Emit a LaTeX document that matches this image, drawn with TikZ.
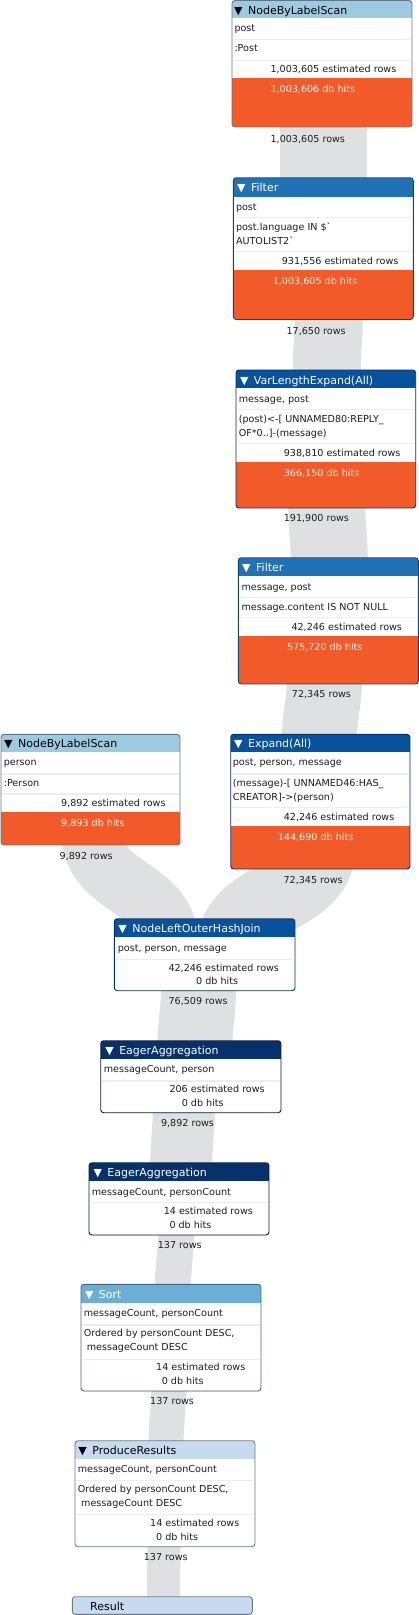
\documentclass[tikz,border=0pt]{standalone}
\usepackage{fontspec}
\setmainfont{DejaVu Sans}
\pgfdeclarelayer{bands}
\pgfsetlayers{bands,main}
\definecolor{scanblue}{HTML}{9ECAE1}
\definecolor{filterblue}{HTML}{2171B5}
\definecolor{expandblue}{HTML}{08519C}
\definecolor{aggblue}{HTML}{08306B}
\definecolor{sortblue}{HTML}{6BAED6}
\definecolor{resultblue}{HTML}{C6DBEF}
\definecolor{hitorange}{HTML}{F25A29}
\definecolor{bandgray}{HTML}{DFE0E2}
\definecolor{sepgray}{HTML}{EDEDED}
\definecolor{inkcol}{HTML}{1E1E1E}
\tikzset{
  body/.style={anchor=base west, inner sep=0pt, outer sep=0pt, font=\fontsize{9.6}{11}\selectfont, text=inkcol},
  hitstext/.style={body, text=white},
  rowsout/.style={anchor=base east, inner sep=0pt, outer sep=0pt, font=\fontsize{9.6}{11}\selectfont, text=inkcol},
  hdr/.style={anchor=base west, inner sep=0pt, outer sep=0pt, font=\fontsize{11}{13}\selectfont},
  band/.style={draw=bandgray, line cap=butt},
  rowsep/.style={draw=sepgray, line width=1.5pt},
  opframe/.style={rectangle, inner sep=0pt, outer sep=0pt, draw=none},
}
\newcommand{\tri}{▼\hspace{5.5pt}}
% #1 name #2 x1 #3 y1 #4 x2 #5 y2 #6 header bottom #7 header colour #8 orange top #9 border colour
\newcommand{\planop}[9]{%
  \node[opframe, minimum width={#4-#2}, minimum height={#5-#3}] (#1) at ({(#2+#4)/2},{(#3+#5)/2}) {};
  \begin{scope}
    \clip[rounded corners=3pt] (#2,#3) rectangle (#4,#5);
    \fill[white] (#2,#3) rectangle (#4,#5);
    \fill[#7] (#2,#3) rectangle (#4,#6);
    \fill[hitorange] (#2,#8) rectangle (#4,#5);
  \end{scope}
  \draw[#9, line width=0.9pt, rounded corners=3pt] (#2,#3) rectangle (#4,#5);
}
\begin{document}
\begin{tikzpicture}[x=1pt, y=-1pt]
\useasboundingbox (0,0) rectangle (419,1615);

% ---------- boxes ----------
\planop{b1}{232}{0.5}{412}{127}{17.5}{scanblue}{78}{scanblue!60!black}
\draw[rowsep] (233,39.5) -- (411,39.5);
\draw[rowsep] (233,60.5) -- (411,60.5);
\node[hdr, text=black] (b1h) at (234.1,14) {\tri NodeByLabelScan};
\node[body] (b1a) at (234.5,31) {post};
\node[body] (b1b) at (234.5,51.5) {:Post};
\node[body] (b1e) at (270.5,72.7) {1,003,605 estimated rows};
\node[hitstext] (b1d) at (270.5,92.3) {1,003,606 db hits};
\node[rowsout] (b1r) at (345,142.3) {1,003,605 rows};

\planop{b2}{233.3}{177.7}{413.3}{319.5}{196.5}{filterblue}{270}{filterblue!60!black}
\draw[rowsep] (234.3,217.5) -- (412.3,217.5);
\draw[rowsep] (234.3,251.7) -- (412.3,251.7);
\node[hdr, text=white] (b2h) at (237.1,191.5) {\tri Filter};
\node[body] (b2a) at (236,210.7) {post};
\node[body] (b2b) at (236,230.7) {post.language IN \$\textasciigrave};
\node[body] (b2c) at (236,244) {AUTOLIST2\textasciigrave};
\node[body] (b2e) at (281.8,264.3) {931,556 estimated rows};
\node[hitstext] (b2d) at (272.8,284.3) {1,003,605 db hits};
\node[rowsout] (b2r) at (345.7,334.3) {17,650 rows};

\planop{b3}{236}{370}{415.7}{508}{388.3}{expandblue}{462}{expandblue!60!black}
\draw[rowsep] (237,409.7) -- (414.7,409.7);
\draw[rowsep] (237,443.3) -- (414.7,443.3);
\node[hdr, text=white] (b3h) at (240,384) {\tri VarLengthExpand(All)};
\node[body] (b3a) at (238.8,402.3) {message, post};
\node[body] (b3b) at (238.8,422.5) {(post)<-[ UNNAMED80:REPLY\_};
\node[body] (b3c) at (238.8,436) {OF*0..]-(message)};
\node[body] (b3e) at (283.8,456) {938,810 estimated rows};
\node[hitstext] (b3d) at (283.8,476) {366,150 db hits};
\node[rowsout] (b3r) at (349,521) {191,900 rows};

\planop{b4}{238.3}{557.7}{418.3}{684}{576}{filterblue}{636}{filterblue!60!black}
\draw[rowsep] (239.3,597.7) -- (417.3,597.7);
\draw[rowsep] (239.3,617.7) -- (417.3,617.7);
\node[hdr, text=white] (b4h) at (242.2,571) {\tri Filter};
\node[body] (b4a) at (241.5,590) {message, post};
\node[body] (b4b) at (241.5,610) {message.content IS NOT NULL};
\node[body] (b4e) at (291.5,630.2) {42,246 estimated rows};
\node[hitstext] (b4d) at (287,650) {575,720 db hits};
\node[rowsout] (b4r) at (351,697.5) {72,345 rows};

\planop{b5}{1}{734.3}{180}{845}{751.7}{scanblue}{812.3}{scanblue!60!black}
\draw[rowsep] (2,774) -- (179,774);
\draw[rowsep] (2,794) -- (179,794);
\node[hdr, text=black] (b5h) at (4.1,747.5) {\tri NodeByLabelScan};
\node[body] (b5a) at (3.8,765.7) {person};
\node[body] (b5b) at (3.8,786) {:Person};
\node[body] (b5e) at (61.2,806) {9,892 estimated rows};
\node[hitstext] (b5d) at (61.2,826) {9,893 db hits};
\node[rowsout] (b5r) at (112.7,859) {9,892 rows};

\planop{b6}{230.7}{734.3}{410}{869}{751.7}{expandblue}{826}{expandblue!60!black}
\draw[rowsep] (231.7,774) -- (409,774);
\draw[rowsep] (231.7,807.7) -- (409,807.7);
\node[hdr, text=white] (b6h) at (234.1,747.5) {\tri Expand(All)};
\node[body] (b6a) at (232.8,765.7) {post, person, message};
\node[body] (b6b) at (232.8,786.3) {(message)-[ UNNAMED46:HAS\_};
\node[body] (b6c) at (232.8,800) {CREATOR]->(person)};
\node[body] (b6e) at (283.8,820) {42,246 estimated rows};
\node[hitstext] (b6d) at (277.8,840) {144,690 db hits};
\node[rowsout] (b6r) at (342.7,883.3) {72,345 rows};

\planop{b7}{114.3}{918.7}{295}{990.7}{937.3}{expandblue}{990.7}{expandblue!60!black}
\draw[rowsep] (115.3,959.3) -- (294,959.3);
\node[hdr, text=white] (b7h) at (118.4,932.5) {\tri NodeLeftOuterHashJoin};
\node[body] (b7a) at (117.8,951) {post, person, message};
\node[body] (b7e) at (168.5,971) {42,246 estimated rows};
\node[body] (b7d) at (196.2,984.3) {0 db hits};
\node[rowsout] (b7r) at (227.7,1004.3) {76,509 rows};

\planop{b8}{100.7}{1040.7}{281}{1112.7}{1059.3}{aggblue}{1112.7}{aggblue!60!black}
\draw[rowsep] (101.7,1081) -- (280,1081);
\node[hdr, text=white] (b8h) at (105.3,1054.5) {\tri EagerAggregation};
\node[body] (b8a) at (103.8,1072.7) {messageCount, person};
\node[body] (b8e) at (169.5,1092.7) {206 estimated rows};
\node[body] (b8d) at (181.8,1106) {0 db hits};
\node[rowsout] (b8r) at (214,1126.7) {9,892 rows};

\planop{b9}{89}{1162.7}{269}{1235}{1181}{aggblue}{1235}{aggblue!60!black}
\draw[rowsep] (90,1202.3) -- (268,1202.3);
\node[hdr, text=white] (b9h) at (93.5,1176.5) {\tri EagerAggregation};
\node[body] (b9a) at (91.8,1195) {messageCount, personCount};
\node[body] (b9e) at (163.8,1214.3) {14 estimated rows};
\node[body] (b9d) at (169.5,1228.3) {0 db hits};
\node[rowsout] (b9r) at (201.7,1248.3) {137 rows};

\planop{b10}{81}{1284.3}{261}{1391}{1302.7}{sortblue}{1391}{sortblue!60!black}
\draw[rowsep] (82,1325) -- (260,1325);
\draw[rowsep] (82,1359.3) -- (260,1359.3);
\node[hdr, text=white] (b10h) at (85,1298) {\tri Sort};
\node[body] (b10a) at (83.8,1316.7) {messageCount, personCount};
\node[body] (b10b) at (83.8,1336.7) {Ordered by personCount DESC,};
\node[body] (b10c) at (86.8,1350.7) {messageCount DESC};
\node[body] (b10e) at (156.2,1370.7) {14 estimated rows};
\node[body] (b10d) at (161.8,1384.3) {0 db hits};
\node[rowsout] (b10r) at (194,1404.3) {137 rows};

\planop{b11}{75}{1440.7}{255}{1546.7}{1459}{resultblue}{1546.7}{resultblue!55!black}
\draw[rowsep] (76,1480.7) -- (254,1480.7);
\draw[rowsep] (76,1514.3) -- (254,1514.3);
\node[hdr, text=black] (b11h) at (78.4,1454.5) {\tri ProduceResults};
\node[body] (b11a) at (77.8,1472.7) {messageCount, personCount};
\node[body] (b11b) at (77.8,1492.7) {Ordered by personCount DESC,};
\node[body] (b11c) at (81.2,1506.7) {messageCount DESC};
\node[body] (b11e) at (150.2,1526.7) {14 estimated rows};
\node[body] (b11d) at (156.2,1540) {0 db hits};
\node[rowsout] (b11r) at (187.7,1560.7) {137 rows};

\planop{b12}{72.3}{1596.7}{252.3}{1614.3}{1614.3}{resultblue}{1614.3}{resultblue!55!black}
\node[hdr, text=black] (b12h) at (90.2,1610.5) {Result};

% ---------- bands ----------
\coordinate (s1) at (323.5,110);   \coordinate (t1) at (323.5,195);
\coordinate (s2) at (329,300);     \coordinate (t2) at (326.5,390);
\coordinate (s3) at (326.5,490);   \coordinate (t3) at (329.5,575);
\coordinate (s4) at (325,665);     \coordinate (t4) at (319,752);
\coordinate (s5) at (318,850);     \coordinate (t5) at (234.7,945);
\coordinate (s6) at (92,835);      \coordinate (t6) at (167.7,940);
\coordinate (s7) at (199,975);     \coordinate (t7) at (194.6,1058);
\coordinate (s8) at (184,1095);    \coordinate (t8) at (181,1180);
\coordinate (s9) at (176.5,1220);  \coordinate (t9) at (172.5,1300);
\coordinate (s10) at (169,1375);   \coordinate (t10) at (165.8,1457);
\coordinate (s11) at (164,1530);   \coordinate (t11) at (163.5,1605);
\begin{pgfonlayer}{bands}
\draw[band, line width=87pt] (s1) .. controls +(0,42) and +(0,-42) .. (t1);
\draw[band, line width=68pt] (s2) .. controls +(0,45) and +(0,-45) .. (t2);
\draw[band, line width=77pt] (s3) .. controls +(0,42) and +(0,-42) .. (t3);
\draw[band, line width=75pt] (s4) .. controls +(0,43) and +(0,-43) .. (t4);
\draw[band, line width=74pt] (s5) .. controls +(0,47) and +(0,-47) .. (t5);
\draw[band, line width=60pt] (s6) .. controls +(0,52) and +(0,-52) .. (t6);
\draw[band, line width=75pt] (s7) .. controls +(0,41) and +(0,-41) .. (t7);
\draw[band, line width=62pt] (s8) .. controls +(0,42) and +(0,-42) .. (t8);
\draw[band, line width=36pt] (s9) .. controls +(0,40) and +(0,-40) .. (t9);
\draw[band, line width=35pt] (s10) .. controls +(0,41) and +(0,-41) .. (t10);
\draw[band, line width=33pt] (s11) .. controls +(0,37) and +(0,-37) .. (t11);
\end{pgfonlayer}
\end{tikzpicture}
\end{document}
